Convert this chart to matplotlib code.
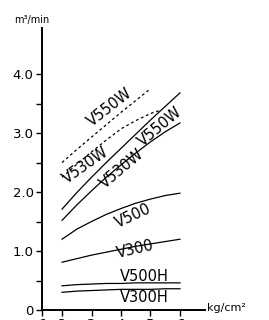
import matplotlib
matplotlib.use("Agg")
import matplotlib.pyplot as plt

# pressure points (kg/cm2) and flow (m3/min)
x_full = [2, 2.5, 3, 3.5, 4, 4.5, 5, 5.5, 6]
v300h = [0.30, 0.32, 0.33, 0.34, 0.35, 0.35, 0.35, 0.36, 0.36]
v500h = [0.41, 0.43, 0.44, 0.45, 0.45, 0.46, 0.46, 0.46, 0.46]
v300 = [0.81, 0.87, 0.93, 0.98, 1.03, 1.08, 1.12, 1.16, 1.20]
v500 = [1.20, 1.37, 1.50, 1.62, 1.72, 1.81, 1.88, 1.94, 1.98]
v530w = [1.52, 1.78, 2.02, 2.25, 2.46, 2.66, 2.85, 3.02, 3.17]
v550w = [1.71, 1.99, 2.25, 2.50, 2.74, 2.98, 3.22, 3.45, 3.68]

x_dash_530 = [2, 2.5, 3, 3.5, 4, 4.5, 5, 5.3]
v530w_dash = [2.25, 2.47, 2.68, 2.88, 3.07, 3.21, 3.33, 3.38]
x_dash_550 = [2, 2.5, 3, 3.5, 4, 4.5, 5]
v550w_dash = [2.50, 2.72, 2.93, 3.14, 3.35, 3.55, 3.75]

xtick_pos = [1.32, 2, 3, 4, 5, 6]
xtick_labels = ["0", "2", "3", "4", "5", "6"]
ytick_pos = [0, 1, 2, 3, 4]
ytick_labels = ["0", "1.0", "2.0", "3.0", "4.0"]

W, H = 269, 320
fig = plt.figure(figsize=(W / 100, H / 100), dpi=100)
ax = fig.add_axes([42 / W, 10 / H, (205 - 42) / W, (310 - 28) / H])

lw = 0.9
for y in [v300h, v500h, v300, v500, v530w, v550w]:
    ax.plot(x_full, y, color="black", lw=lw)
ax.plot(x_dash_530, v530w_dash, color="black", lw=lw, ls=(0, (2.2, 2.2)))
ax.plot(x_dash_550, v550w_dash, color="black", lw=lw, ls=(0, (2.2, 2.2)))

ax.set_xlim(1.32, 6.85)
ax.set_ylim(0, 4.78)

for s in ["top", "right"]:
    ax.spines[s].set_visible(False)
for s in ["left", "bottom"]:
    ax.spines[s].set_linewidth(1.4)

ax.set_yticks(ytick_pos)
ax.set_yticklabels(ytick_labels)
ax.set_yticks([0.5, 1.5, 2.5, 3.5], minor=True)
ax.tick_params(axis="y", which="both", direction="out", length=4, width=1.0,
               labelsize=9.5, pad=2)
ax.set_xticks(xtick_pos)
ax.set_xticklabels(xtick_labels)
ax.tick_params(axis="x", direction="out", length=4, width=1.0,
               labelsize=9.5, pad=1.5)

fs = 10.5
lab = dict(fontsize=fs, ha="center", va="center", color="black")
ax.text(3.63, 3.44, "V550W", rotation=38, **lab)
ax.text(2.80, 2.45, "V530W", rotation=35, **lab)
ax.text(5.32, 3.10, "V550W", rotation=40, **lab)
ax.text(4.02, 2.40, "V530W", rotation=40, **lab)
ax.text(4.42, 1.60, "V500", rotation=25, **lab)
ax.text(4.50, 1.03, "V300", rotation=13, **lab)
ax.text(4.78, 0.56, "V500H", **lab)
ax.text(4.78, 0.22, "V300H", **lab)

fig.text(32 / W, 1 - 20 / H, "m³/min", fontsize=7, ha="center", va="center")
fig.text(207 / W, 1 - 308 / H, "kg/cm²", fontsize=8, ha="left", va="center")

fig.savefig("out.png", dpi=100)
